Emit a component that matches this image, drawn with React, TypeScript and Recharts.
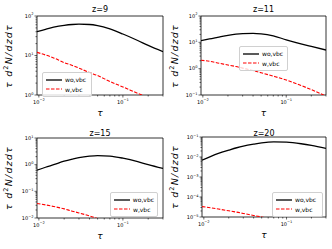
import React from 'react';
import { LineChart, Line, XAxis, YAxis, ReferenceArea, Legend } from 'recharts';

const FONT = '"DejaVu Sans", sans-serif';

// optical depth grid (x values)
const tau = [0.0095, 0.012, 0.015, 0.02, 0.025, 0.03, 0.04, 0.05, 0.07, 0.1, 0.15, 0.2, 0.3];

// z=9
const z9WoVbc = [40, 46, 52, 58, 61, 62, 61, 57, 47, 35, 24, 18, 12.5];
const z9WVbc = [12, 10.3, 8.7, 6.6, 5.6, 4.8, 3.7, 3.1, 2.2, 1.6, 1.1, 0.85, 0.5];
// z=11
const z11WoVbc = [11.5, 13.5, 15.5, 18.5, 20.5, 21.5, 22, 21, 17.5, 12.5, 8.8, 7, 5.1];
const z11WVbc = [2.1, 1.9, 1.65, 1.38, 1.2, 1.05, 0.85, 0.7, 0.52, 0.37, 0.23, 0.16, 0.09];
// z=15
const z15WoVbc = [0.62, 0.8, 1.0, 1.35, 1.62, 1.85, 2.1, 2.2, 2.1, 1.75, 1.3, 1.0, 0.72];
const z15WVbc = [0.035, 0.031, 0.027, 0.022, 0.018, 0.0155, 0.012, 0.0095, 0.0068, 0.0045, 0.003, 0.0022, 0.0014];
// z=20
const z20WoVbc = [0.007, 0.0105, 0.015, 0.022, 0.029, 0.035, 0.044, 0.051, 0.057, 0.055, 0.046, 0.038, 0.027];
const z20WVbc = [3.3e-5, 2.9e-5, 2.5e-5, 2.05e-5, 1.75e-5, 1.5e-5, 1.2e-5, 1.0e-5, 7.5e-6, 5.3e-6, 3.6e-6, 2.7e-6, 1.7e-6];

const seriesNames = ['wo,vbc', 'w,vbc'];
const seriesColors = ['#000000', '#ff0000'];
const titles = ['z=9', 'z=11', 'z=15', 'z=20'];

const xDomain = [0.0095, 0.3];
const xMajorExp = [-2, -1];
const yMajorExp = [
  [0, 1, 2],
  [-1, 0, 1, 2],
  [-2, -1, 0, 1],
  [-5, -4, -3, -2, -1],
];

function logTicks(exps: number[], lo: number, hi: number) {
  const out: number[] = [];
  const first = exps[0] - 1;
  const last = exps[exps.length - 1];
  for (let e = first; e <= last; e++) {
    for (let m = 1; m <= 9; m++) {
      const v = m * Math.pow(10, e);
      if (v >= lo * 0.999 && v <= hi * 1.001) out.push(v);
    }
  }
  return out;
}

function isMajor(v: number) {
  const e = Math.log10(v);
  return Math.abs(e - Math.round(e)) < 1e-6;
}

const supText = (v: number) => {
  const e = Math.round(Math.log10(v));
  return e < 0 ? '\u2212' + Math.abs(e) : String(e);
};

const XTick = (props: any) => {
  const { x, y, payload } = props;
  const v = payload.value;
  const major = isMajor(v);
  return (
    <g>
      <line x1={x} x2={x} y1={y} y2={y + (major ? 2.5 : 1.5)} stroke="#000" strokeWidth={0.6} />
      {major && (
        <text x={x} y={y + 8.5} textAnchor="middle" fontSize={5} fontFamily={FONT} fill="#000">
          10
          <tspan dy={-2.3} fontSize={3.6}>{supText(v)}</tspan>
        </text>
      )}
    </g>
  );
};

const YTick = (props: any) => {
  const { x, y, payload } = props;
  const v = payload.value;
  const major = isMajor(v);
  return (
    <g>
      <line x1={x} x2={x - (major ? 2.5 : 1.5)} y1={y} y2={y} stroke="#000" strokeWidth={0.6} />
      {major && (
        <text x={x - 3.5} y={y + 1.8} textAnchor="end" fontSize={5} fontFamily={FONT} fill="#000">
          10
          <tspan dy={-2.3} fontSize={3.6}>{supText(v)}</tspan>
        </text>
      )}
    </g>
  );
};

const LegendBox = () => {
  return (
    <div
      style={{
        border: '0.8px solid #d0d0d0',
        borderRadius: 2,
        background: 'rgba(255,255,255,0.8)',
        padding: '2px 3px',
        fontFamily: FONT,
        fontSize: 6,
        lineHeight: '9.5px',
        boxSizing: 'border-box',
        color: '#000',
      }}
    >
      {seriesNames.map((name, i) => (
        <div key={i} style={{ display: 'flex', alignItems: 'center', whiteSpace: 'nowrap' }}>
          <svg width={16} height={4} style={{ marginRight: 3 }}>
            <line
              x1={0}
              x2={16}
              y1={2}
              y2={2}
              stroke={seriesColors[i]}
              strokeWidth={i === 0 ? 1.3 : 1.1}
              strokeDasharray={i === 0 ? undefined : '3.5 1.5'}
            />
          </svg>
          <span>{name}</span>
        </div>
      ))}
    </div>
  );
};

type PanelCfg = {
  left: number;
  top: number;
  width: number;
  height: number;
  margin: { top: number; right: number; bottom: number; left: number };
  wo: number[];
  w: number[];
  yExp: number[];
  title: string;
  legend: { left: number; top: number; width: number };
};

// margins include 1px reserved for the (invisible) axis band
const panels: PanelCfg[] = [
  {
    left: 0, top: 0, width: 166, height: 125,
    margin: { top: 16, right: 3, bottom: 29, left: 36 },
    wo: z9WoVbc, w: z9WVbc, yExp: yMajorExp[0], title: titles[0],
    legend: { left: 42, top: 72, width: 50 },
  },
  {
    left: 166, top: 0, width: 166, height: 125,
    margin: { top: 16, right: 6, bottom: 29, left: 34 },
    wo: z11WoVbc, w: z11WVbc, yExp: yMajorExp[1], title: titles[1],
    legend: { left: 73, top: 46, width: 49 },
  },
  {
    left: 0, top: 124, width: 166, height: 125,
    margin: { top: 14, right: 3, bottom: 30, left: 36 },
    wo: z15WoVbc, w: z15WVbc, yExp: yMajorExp[2], title: titles[2],
    legend: { left: 110, top: 68, width: 48 },
  },
  {
    left: 166, top: 124, width: 166, height: 125,
    margin: { top: 13, right: 6, bottom: 31, left: 35 },
    wo: z20WoVbc, w: z20WVbc, yExp: yMajorExp[3], title: titles[3],
    legend: { left: 106, top: 68, width: 51 },
  },
];

const Panel = ({ cfg }: { cfg: PanelCfg }) => {
  const data = tau.map((t, i) => ({ tau: t, wo: cfg.wo[i], w: cfg.w[i] }));
  const yLo = Math.pow(10, cfg.yExp[0]);
  const yHi = Math.pow(10, cfg.yExp[cfg.yExp.length - 1]);
  const yTicks = logTicks(cfg.yExp, yLo, yHi);
  const xTicks = logTicks(xMajorExp, xDomain[0], xDomain[1]);
  const m = cfg.margin;
  const plotL = m.left + 1;
  const plotR = cfg.width - m.right;
  const plotT = m.top;
  const plotB = cfg.height - m.bottom - 1;
  const cx = (plotL + plotR) / 2;
  const cy = (plotT + plotB) / 2;
  return (
    <div style={{ position: 'absolute', left: cfg.left, top: cfg.top, width: cfg.width, height: cfg.height }}>
      <LineChart width={cfg.width} height={cfg.height} data={data} margin={m}>
        <XAxis
          dataKey="tau"
          type="number"
          scale="log"
          domain={xDomain}
          allowDataOverflow
          ticks={xTicks}
          interval={0}
          height={1}
          tickSize={0}
          tickMargin={0}
          axisLine={false}
          tickLine={false}
          tick={<XTick />}
        />
        <YAxis
          type="number"
          scale="log"
          domain={[yLo, yHi]}
          allowDataOverflow
          ticks={yTicks}
          interval={0}
          width={1}
          tickSize={0}
          tickMargin={0}
          axisLine={false}
          tickLine={false}
          tick={<YTick />}
        />
        <ReferenceArea
          x1={xDomain[0]}
          x2={xDomain[1]}
          y1={yLo}
          y2={yHi}
          fill="none"
          fillOpacity={0}
          stroke="#000"
          strokeWidth={0.8}
          ifOverflow="visible"
        />
        <Line
          dataKey="wo"
          name={seriesNames[0]}
          type="monotone"
          stroke={seriesColors[0]}
          strokeWidth={1.3}
          dot={false}
          isAnimationActive={false}
        />
        <Line
          dataKey="w"
          name={seriesNames[1]}
          type="monotone"
          stroke={seriesColors[1]}
          strokeWidth={1.1}
          strokeDasharray="3.5 1.5"
          dot={false}
          isAnimationActive={false}
        />
        <Legend
          layout="vertical"
          align="center"
          verticalAlign="middle"
          content={<LegendBox />}
          wrapperStyle={{ left: cfg.legend.left, top: cfg.legend.top, width: cfg.legend.width, right: 'auto', bottom: 'auto' }}
        />
      </LineChart>
      <div
        style={{
          position: 'absolute', left: cx, top: 9.5, transform: 'translate(-50%,-50%)',
          fontFamily: FONT, fontSize: 8, lineHeight: 1, whiteSpace: 'nowrap', color: '#000',
        }}
      >
        {cfg.title}
      </div>
      <div
        style={{
          position: 'absolute', left: cx, top: plotB + 18, transform: 'translate(-50%,-50%)',
          fontFamily: FONT, fontSize: 9, fontStyle: 'italic', lineHeight: 1, color: '#000',
        }}
      >
        τ
      </div>
      <div
        style={{
          position: 'absolute', left: 8, top: cy, transform: 'translate(-50%,-50%) rotate(-90deg)',
          fontFamily: FONT, fontSize: 9.5, fontStyle: 'italic', lineHeight: 1, whiteSpace: 'nowrap',
          color: '#000', letterSpacing: 1.2,
        }}
      >
        τ d<span style={{ fontSize: 6.5, verticalAlign: 4, fontStyle: 'normal' }}>2</span>N/dzdτ
      </div>
    </div>
  );
};

export default function App() {
  return (
    <div style={{ position: 'absolute', left: 0, top: 0, width: 332, height: 249, background: '#fff' }}>
      {panels.map((p, i) => (
        <Panel key={i} cfg={p} />
      ))}
    </div>
  );
}
